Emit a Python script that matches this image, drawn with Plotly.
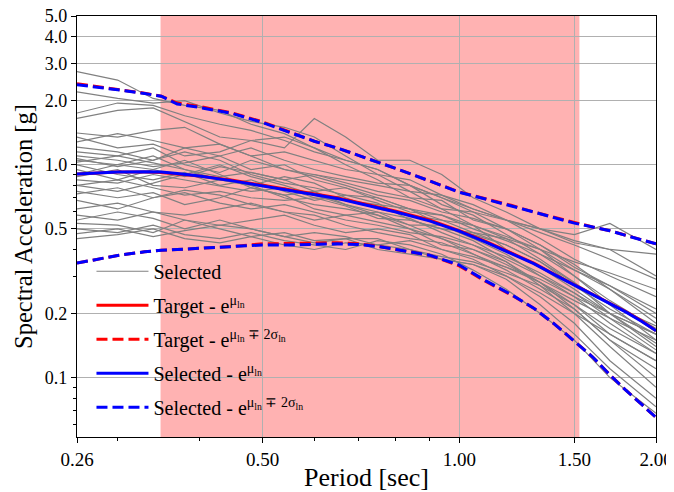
import numpy as np
import plotly.graph_objects as go

# ---------------- data ----------------
# periods for the individual selected ground-motion spectra
periods_gm = [0.26, 0.30, 0.34, 0.38, 0.43, 0.48, 0.54, 0.60, 0.67, 0.75,
              0.84, 0.94, 1.05, 1.18, 1.33, 1.50, 1.70, 2.00]

gm_01 = [2.74, 2.50, 2.05, 1.90, 1.80, 1.55, 1.40, 1.20, 1.05, 0.95, 0.80, 0.70, 0.60, 0.50, 0.42, 0.33, 0.27, 0.20]
gm_02 = [2.20, 2.05, 1.95, 2.00, 1.75, 1.60, 1.50, 1.35, 1.10, 0.90, 0.85, 0.72, 0.62, 0.55, 0.45, 0.36, 0.30, 0.24]
gm_03 = [1.75, 1.95, 1.90, 1.70, 1.55, 1.45, 1.30, 1.15, 1.05, 0.95, 0.80, 0.65, 0.58, 0.47, 0.38, 0.30, 0.22, 0.15]
gm_04 = [1.65, 1.80, 1.85, 1.60, 1.35, 1.30, 1.35, 1.20, 1.00, 0.85, 0.70, 0.68, 0.55, 0.50, 0.40, 0.32, 0.26, 0.18]
gm_05 = [1.41, 1.35, 1.45, 1.50, 1.25, 1.10, 1.15, 1.05, 0.95, 0.90, 0.75, 0.62, 0.52, 0.45, 0.36, 0.28, 0.20, 0.14]
gm_06 = [1.35, 1.20, 1.25, 1.10, 1.15, 1.30, 1.20, 1.65, 1.35, 1.05, 1.05, 0.90, 0.70, 0.60, 0.50, 0.43, 0.40, 0.30]
gm_07 = [1.28, 1.40, 1.30, 1.20, 1.25, 1.10, 0.95, 0.90, 0.85, 0.80, 0.75, 0.72, 0.65, 0.55, 0.48, 0.42, 0.36, 0.29]
gm_08 = [1.21, 1.15, 1.05, 1.20, 1.10, 0.95, 1.00, 0.85, 0.78, 0.70, 0.62, 0.55, 0.48, 0.42, 0.35, 0.27, 0.21, 0.16]
gm_09 = [1.15, 1.10, 1.20, 1.00, 0.92, 1.05, 0.95, 0.88, 0.80, 0.72, 0.68, 0.60, 0.56, 0.50, 0.42, 0.34, 0.26, 0.19]
gm_10 = [1.07, 0.98, 1.05, 1.15, 1.05, 0.90, 0.82, 0.78, 0.72, 0.70, 0.62, 0.52, 0.45, 0.38, 0.30, 0.24, 0.18, 0.13]
gm_11 = [1.05, 1.00, 0.95, 0.88, 0.98, 0.92, 0.85, 0.75, 0.78, 0.68, 0.60, 0.58, 0.50, 0.44, 0.38, 0.32, 0.27, 0.21]
gm_12 = [1.03, 1.10, 1.02, 0.95, 0.85, 0.80, 0.88, 0.82, 0.70, 0.62, 0.58, 0.55, 0.52, 0.40, 0.33, 0.26, 0.20, 0.145]
gm_13 = [1.00, 0.90, 0.85, 0.92, 0.80, 0.85, 0.75, 0.68, 0.72, 0.66, 0.55, 0.50, 0.44, 0.36, 0.30, 0.25, 0.20, 0.16]
gm_14 = [0.95, 0.85, 0.95, 1.05, 0.90, 0.78, 0.72, 0.75, 0.65, 0.60, 0.56, 0.48, 0.42, 0.35, 0.28, 0.22, 0.16, 0.12]
gm_15 = [0.88, 0.95, 0.80, 0.78, 0.85, 0.80, 0.70, 0.65, 0.62, 0.58, 0.52, 0.52, 0.47, 0.42, 0.35, 0.28, 0.22, 0.175]
gm_16 = [0.80, 0.75, 0.82, 0.90, 1.00, 0.88, 0.80, 0.72, 0.65, 0.58, 0.50, 0.45, 0.38, 0.32, 0.26, 0.21, 0.15, 0.10]
gm_17 = [0.80, 0.85, 0.78, 0.72, 0.75, 0.70, 0.68, 0.70, 0.64, 0.56, 0.55, 0.50, 0.48, 0.45, 0.40, 0.35, 0.31, 0.26]
gm_18 = [0.75, 0.70, 0.74, 0.65, 0.70, 0.78, 0.72, 0.62, 0.58, 0.60, 0.52, 0.45, 0.40, 0.34, 0.28, 0.21, 0.15, 0.11]
gm_19 = [0.73, 0.78, 0.70, 0.74, 0.66, 0.62, 0.65, 0.60, 0.55, 0.52, 0.48, 0.46, 0.42, 0.37, 0.31, 0.25, 0.19, 0.135]
gm_20 = [0.68, 0.62, 0.70, 0.76, 0.72, 0.65, 0.60, 0.55, 0.58, 0.54, 0.50, 0.42, 0.40, 0.35, 0.27, 0.20, 0.14, 0.09]
gm_21 = [0.62, 0.66, 0.60, 0.58, 0.62, 0.66, 0.60, 0.58, 0.52, 0.48, 0.45, 0.43, 0.38, 0.33, 0.28, 0.23, 0.19, 0.15]
gm_22 = [0.58, 0.55, 0.60, 0.55, 0.52, 0.55, 0.58, 0.52, 0.48, 0.50, 0.47, 0.40, 0.36, 0.30, 0.24, 0.18, 0.12, 0.08]
gm_23 = [0.55, 0.60, 0.56, 0.50, 0.55, 0.50, 0.46, 0.48, 0.46, 0.42, 0.44, 0.40, 0.37, 0.33, 0.29, 0.24, 0.20, 0.16]
gm_24 = [0.53, 0.52, 0.48, 0.55, 0.50, 0.46, 0.48, 0.44, 0.45, 0.45, 0.40, 0.36, 0.34, 0.29, 0.22, 0.16, 0.11, 0.073]
gm_25 = [0.50, 0.48, 0.52, 0.47, 0.45, 0.48, 0.44, 0.42, 0.40, 0.44, 0.42, 0.38, 0.32, 0.26, 0.20, 0.15, 0.10, 0.068]
gm_26 = [0.475, 0.50, 0.46, 0.49, 0.52, 0.50, 0.46, 0.43, 0.45, 0.40, 0.38, 0.36, 0.34, 0.30, 0.25, 0.20, 0.16, 0.12]
gm_27 = [0.45, 0.47, 0.50, 0.45, 0.43, 0.46, 0.42, 0.40, 0.43, 0.42, 0.40, 0.37, 0.35, 0.31, 0.27, 0.22, 0.17, 0.13]
gm_28 = [0.90, 1.00, 1.10, 0.95, 0.88, 0.92, 0.85, 0.90, 0.82, 0.75, 0.70, 0.62, 0.60, 0.55, 0.50, 0.44, 0.40, 0.38]
gm_29 = [1.10, 1.05, 0.98, 1.02, 1.10, 1.20, 1.05, 0.95, 0.88, 0.82, 0.80, 0.70, 0.62, 0.55, 0.50, 0.47, 0.53, 0.40]
gm_30 = [0.85, 0.82, 0.90, 0.85, 0.80, 0.75, 0.78, 0.70, 0.68, 0.65, 0.62, 0.58, 0.52, 0.46, 0.40, 0.30, 0.23, 0.17]

selected_spectra = [gm_01, gm_02, gm_03, gm_04, gm_05, gm_06, gm_07, gm_08, gm_09, gm_10,
                    gm_11, gm_12, gm_13, gm_14, gm_15, gm_16, gm_17, gm_18, gm_19, gm_20,
                    gm_21, gm_22, gm_23, gm_24, gm_25, gm_26, gm_27, gm_28, gm_29, gm_30]

# periods for target / selected statistics
periods_stat = [0.26, 0.28, 0.30, 0.33, 0.35, 0.37, 0.40, 0.45, 0.50, 0.55, 0.60, 0.65, 0.70,
                0.75, 0.80, 0.90, 1.00, 1.10, 1.20, 1.30, 1.40, 1.50, 1.60, 1.70, 1.80, 1.90, 2.00]

target_mean = [0.905, 0.915, 0.925, 0.925, 0.92, 0.905, 0.885, 0.845, 0.80, 0.765, 0.73, 0.70, 0.665,
               0.635, 0.605, 0.55, 0.49, 0.435, 0.385, 0.345, 0.305, 0.273, 0.248, 0.225, 0.204, 0.185, 0.166]
target_upper = [2.40, 2.33, 2.26, 2.17, 2.10, 1.95, 1.88, 1.75, 1.59, 1.42, 1.29, 1.20, 1.11,
                1.03, 0.96, 0.84, 0.745, 0.69, 0.645, 0.60, 0.565, 0.535, 0.51, 0.49, 0.465, 0.445, 0.425]
target_lower = [0.345, 0.36, 0.375, 0.39, 0.397, 0.40, 0.405, 0.413, 0.425, 0.428, 0.43, 0.43, 0.425,
                0.415, 0.40, 0.376, 0.335, 0.282, 0.245, 0.212, 0.178, 0.148, 0.125, 0.103, 0.087, 0.075, 0.065]

sel_mean = [0.905, 0.915, 0.925, 0.928, 0.925, 0.91, 0.885, 0.84, 0.795, 0.76, 0.725, 0.695, 0.66,
            0.63, 0.60, 0.545, 0.488, 0.432, 0.383, 0.343, 0.304, 0.272, 0.247, 0.224, 0.203, 0.184, 0.166]
sel_upper = [2.38, 2.32, 2.25, 2.16, 2.10, 1.93, 1.86, 1.74, 1.58, 1.42, 1.29, 1.20, 1.11,
             1.03, 0.96, 0.84, 0.742, 0.688, 0.643, 0.60, 0.563, 0.532, 0.51, 0.49, 0.465, 0.445, 0.425]
sel_lower = [0.345, 0.36, 0.375, 0.39, 0.397, 0.40, 0.405, 0.413, 0.42, 0.42, 0.423, 0.425, 0.422,
             0.413, 0.40, 0.376, 0.338, 0.284, 0.246, 0.212, 0.178, 0.148, 0.125, 0.103, 0.087, 0.075, 0.065]

period_band = [0.349, 1.527]   # shaded period range of interest

x_tickvals = [0.26, 0.50, 1.00, 1.50, 2.00]
x_ticktext = ["0.26", "0.50", "1.00", "1.50", "2.00"]
x_minor = [0.3, 0.4, 0.6, 0.7, 0.8, 0.9]
y_tickvals = [0.1, 0.2, 0.5, 1.0, 2.0, 3.0, 4.0, 5.0]
y_ticktext = ["0.1", "0.2", "0.5", "1.0", "2.0", "3.0", "4.0", "5.0"]
y_minor = [0.06, 0.07, 0.08, 0.09, 0.3, 0.4, 0.6, 0.7, 0.8, 0.9]
x_limits = [0.26, 2.0]
y_limits = [0.0526, 5.0]

# ---------------- figure ----------------
FONT = "Liberation Serif, Times New Roman, serif"
fig = go.Figure()

for i, sa in enumerate(selected_spectra):
    fig.add_trace(go.Scatter(
        x=periods_gm, y=sa, mode="lines",
        line=dict(color="#808080", width=1.2),
        name="Selected", legendgroup="g0", showlegend=(i == 0),
        hoverinfo="skip"))

mu = "e<sup>μ<sub>ln</sub></sup>"
mus = "e<sup>μ<sub>ln</sub> ∓ 2σ<sub>ln</sub></sup>"
DASH = "11px,5px"

fig.add_trace(go.Scatter(x=periods_stat, y=target_mean, mode="lines", legendgroup="g1",
                         line=dict(color="#ff0000", width=3), name="Target - " + mu))
fig.add_trace(go.Scatter(x=periods_stat, y=target_upper, mode="lines",
                         line=dict(color="#ff0000", width=3, dash=DASH),
                         name="Target - " + mus, legendgroup="g2"))
fig.add_trace(go.Scatter(x=periods_stat, y=target_lower, mode="lines",
                         line=dict(color="#ff0000", width=3, dash=DASH),
                         name="Target - " + mus, legendgroup="g2", showlegend=False))
fig.add_trace(go.Scatter(x=periods_stat, y=sel_mean, mode="lines", legendgroup="g3",
                         line=dict(color="#0000ff", width=3), name="Selected - " + mu))
fig.add_trace(go.Scatter(x=periods_stat, y=sel_upper, mode="lines",
                         line=dict(color="#0000ff", width=3, dash=DASH),
                         name="Selected - " + mus, legendgroup="g4"))
fig.add_trace(go.Scatter(x=periods_stat, y=sel_lower, mode="lines",
                         line=dict(color="#0000ff", width=3, dash=DASH),
                         name="Selected - " + mus, legendgroup="g4", showlegend=False))

fig.add_shape(type="rect", xref="x", yref="paper",
              x0=period_band[0], x1=period_band[1], y0=0, y1=1,
              fillcolor="rgba(255,0,0,0.3)", line=dict(width=0), layer="below")

fig.update_xaxes(
    type="log", range=[np.log10(x_limits[0]), np.log10(x_limits[1])],
    tickmode="array", tickvals=x_tickvals, ticktext=x_ticktext,
    ticks="outside", ticklen=5, tickcolor="black", ticklabeloverflow="allow",
    showgrid=True, gridcolor="#b0b0b0", gridwidth=1,
    showline=True, linecolor="black", linewidth=1.3, mirror=True,
    minor=dict(tickvals=x_minor, ticks="outside", ticklen=3, tickcolor="black", showgrid=False),
    tickfont=dict(family=FONT, size=19, color="black"),
    title=dict(text="Period [sec]", font=dict(family=FONT, size=26, color="black"), standoff=4),
    automargin=False, zeroline=False)
fig.update_yaxes(
    type="log", range=[np.log10(y_limits[0]), np.log10(y_limits[1])],
    tickmode="array", tickvals=y_tickvals, ticktext=y_ticktext,
    ticks="outside", ticklen=5, tickcolor="black", ticklabeloverflow="allow",
    showgrid=True, gridcolor="#b0b0b0", gridwidth=1,
    showline=True, linecolor="black", linewidth=1.3, mirror=True,
    minor=dict(tickvals=y_minor, ticks="outside", ticklen=3, tickcolor="black", showgrid=False),
    tickfont=dict(family=FONT, size=18, color="black"),
    title=dict(text="Spectral Acceleration [g]", font=dict(family=FONT, size=24.5, color="black"), standoff=5),
    automargin=False, zeroline=False)

# the page body adds an 8 px offset; the figure is sized so that the
# plotting area lands where the reference has it inside the 674x492 window
fig.update_layout(
    width=666, height=484,
    margin=dict(l=69, r=18, t=8, b=55),
    paper_bgcolor="white", plot_bgcolor="white",
    font=dict(family=FONT, color="black"),
    legend=dict(x=0.025, y=0.44, xanchor="left", yanchor="top",
                bgcolor="rgba(0,0,0,0)", borderwidth=0,
                font=dict(family=FONT, size=20, color="black"),
                traceorder="grouped", tracegroupgap=5, itemwidth=52),
    showlegend=True)

fig.write_html("out.html")
